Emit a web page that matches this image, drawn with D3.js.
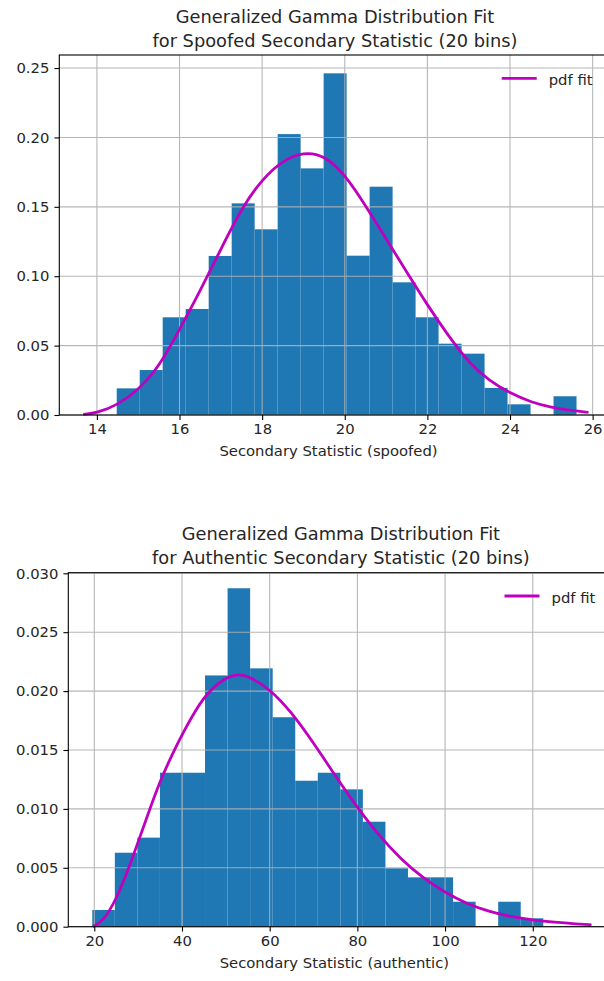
<!DOCTYPE html>
<html lang="en">
<head>
  <meta charset="UTF-8">
  <title>Generalized Gamma Distribution Fit</title>
  <script src="https://cdn.jsdelivr.net/npm/d3@7"></script>
  <style>
    body { margin: 0; background: #fff; }
    text { font-family: "DejaVu Sans", sans-serif; fill: #262626; }
  </style>
</head>
<body>
<svg id="chart"></svg>
<script>
  // ---- data ----
  // spoofed: histogram density per bin (20 bins) and bin range
  var spoofedRange = [14.48, 25.61];
  var spoofedDensity = [0.0192, 0.0324, 0.0704, 0.0764, 0.1146, 0.1525, 0.1338, 0.2024, 0.1777, 0.2462,
                        0.1148, 0.1645, 0.0956, 0.0704, 0.0514, 0.0442, 0.0195, 0.0077, 0.0, 0.0135];
  // spoofed: fitted pdf curve
  var spoofedFitX = [13.67, 14, 14.5, 15, 15.5, 16, 16.5, 17, 17.5, 18, 18.5, 19, 19.5, 20, 20.5, 21,
                     21.5, 22, 22.5, 23, 23.5, 24, 24.5, 25, 25.5, 25.9];
  var spoofedFitY = [0.0004, 0.0014, 0.0072, 0.018, 0.0345, 0.0615, 0.0895, 0.1195, 0.149, 0.170, 0.1835,
                     0.1895, 0.1873, 0.1735, 0.151, 0.127, 0.103, 0.0792, 0.0574, 0.0378, 0.0245, 0.0158,
                     0.0093, 0.0054, 0.0031, 0.0019];
  var spoofedXTicks = [14, 16, 18, 20, 22, 24, 26];
  var spoofedYTicks = [0, 0.05, 0.10, 0.15, 0.20, 0.25];

  // authentic
  var authenticRange = [19.54, 122.4];
  var authenticDensity = [0.00142, 0.00628, 0.00756, 0.01307, 0.01307, 0.02133, 0.02873, 0.02193, 0.01778, 0.01239,
                          0.01307, 0.01166, 0.00891, 0.00496, 0.00419, 0.00419, 0.00212, 0.0, 0.00212, 0.00071];
  var authenticFitX = [19.7, 22, 25, 28, 30, 32, 35, 38, 40, 45, 50, 53, 55, 60, 65, 70, 75, 80, 85, 90,
                       95, 100, 105, 110, 115, 120, 125, 130, 133.4];
  var authenticFitY = [0.0, 0.00045, 0.0023, 0.0051, 0.0072, 0.0093, 0.0124, 0.0148, 0.0163, 0.0197, 0.0212,
                       0.02143, 0.0213, 0.0202, 0.0182, 0.0156, 0.0128, 0.0101, 0.0077, 0.0057,
                       0.00413, 0.0029, 0.00194, 0.00128, 0.00085, 0.00057, 0.00037, 0.00023, 0.00016];
  var authenticXTicks = [20, 40, 60, 80, 100, 120];
  var authenticYTicks = [0, 0.005, 0.010, 0.015, 0.020, 0.025, 0.030];

  var width = 604, height = 981;
  var svg = d3.select("#chart").attr("width", width).attr("height", height);

  function drawPanel(opt) {
    var x = d3.scaleLinear().domain(opt.xDomain).range([opt.left, opt.right]);
    var y = d3.scaleLinear().domain(opt.yDomain).range([opt.bottom, opt.top]);
    var g = svg.append("g");

    // histogram bars
    var n = opt.density.length;
    var step = (opt.range[1] - opt.range[0]) / n;
    g.append("g")
      .selectAll("rect")
      .data(opt.density)
      .enter()
      .append("rect")
      .attr("x", function(d, i) { return x(opt.range[0] + i * step); })
      .attr("width", function(d, i) { return x(opt.range[0] + (i + 1) * step) - x(opt.range[0] + i * step); })
      .attr("y", function(d) { return y(d); })
      .attr("height", function(d) { return y(0) - y(d); })
      .attr("fill", "#1f77b4");

    // grid (drawn over the bars like the original)
    var grid = g.append("g").attr("stroke", "#b0b0b0").attr("stroke-width", 1.1).attr("opacity", 0.9);
    grid.selectAll("line.v").data(opt.xTicks).enter().append("line")
      .attr("x1", function(d) { return x(d); }).attr("x2", function(d) { return x(d); })
      .attr("y1", opt.top).attr("y2", opt.bottom);
    grid.selectAll("line.h").data(opt.yTicks).enter().append("line")
      .attr("y1", function(d) { return y(d); }).attr("y2", function(d) { return y(d); })
      .attr("x1", opt.left).attr("x2", opt.right);

    // pdf fit line
    var line = d3.line()
      .x(function(d) { return x(d[0]); })
      .y(function(d) { return y(d[1]); })
      .curve(d3.curveBasis);
    g.append("path")
      .datum(d3.zip(opt.fitX, opt.fitY))
      .attr("d", line)
      .attr("fill", "none")
      .attr("stroke", "#bf00bf")
      .attr("stroke-width", 2.8);

    // spines
    g.append("rect")
      .attr("x", opt.left).attr("y", opt.top)
      .attr("width", opt.right - opt.left).attr("height", opt.bottom - opt.top)
      .attr("fill", "none").attr("stroke", "#000").attr("stroke-width", 1.1);

    // axes
    var xAxis = d3.axisBottom(x).tickValues(opt.xTicks).tickSize(4.9).tickPadding(4).tickFormat(d3.format("d"));
    var yAxis = d3.axisLeft(y).tickValues(opt.yTicks).tickSize(4.9).tickPadding(5).tickFormat(d3.format(opt.yFormat));
    var xa = g.append("g").attr("transform", "translate(0," + opt.bottom + ")").call(xAxis);
    var ya = g.append("g").attr("transform", "translate(" + opt.left + ",0)").call(yAxis);
    [xa, ya].forEach(function(a) {
      a.select(".domain").remove();
      a.selectAll("line").attr("stroke", "#000").attr("stroke-width", 1.1);
      a.selectAll("text").style("font-size", "14.8px").attr("fill", "#262626");
    });

    // x label
    g.append("text")
      .attr("x", (opt.left + opt.right) / 2 - 8)
      .attr("y", opt.bottom + 41)
      .attr("text-anchor", "middle")
      .style("font-size", "14.8px")
      .text(opt.xLabel);

    // title, two lines
    var cx = (opt.left + opt.right) / 2 - 1.5;
    g.append("text").attr("x", cx).attr("y", opt.top - 32.5)
      .attr("text-anchor", "middle").style("font-size", "17.8px").text(opt.title[0]);
    g.append("text").attr("x", cx).attr("y", opt.top - 8.5)
      .attr("text-anchor", "middle").style("font-size", "17.8px").text(opt.title[1]);

    // legend
    var lg = g.append("g").attr("transform", "translate(" + (opt.right - 112) + "," + (opt.top + 23.3) + ")");
    lg.append("line").attr("x1", 0).attr("x2", 35).attr("y1", 0).attr("y2", 0)
      .attr("stroke", "#bf00bf").attr("stroke-width", 2.8);
    lg.append("text").attr("x", 47).attr("y", 6.5).style("font-size", "14.8px").text("pdf fit");
  }

  drawPanel({
    left: 59.3, right: 613.7, top: 55, bottom: 415,
    xDomain: [13.09, 26.51], yDomain: [0, 0.2594],
    range: spoofedRange, density: spoofedDensity,
    fitX: spoofedFitX, fitY: spoofedFitY,
    xTicks: spoofedXTicks, yTicks: spoofedYTicks, yFormat: ".2f",
    xLabel: "Secondary Statistic (spoofed)",
    title: ["Generalized Gamma Distribution Fit", "for Spoofed Secondary Statistic (20 bins)"]
  });

  drawPanel({
    left: 68.3, right: 616.5, top: 572.7, bottom: 926.7,
    xDomain: [14.07, 139.1], yDomain: [0, 0.03005],
    range: authenticRange, density: authenticDensity,
    fitX: authenticFitX, fitY: authenticFitY,
    xTicks: authenticXTicks, yTicks: authenticYTicks, yFormat: ".3f",
    xLabel: "Secondary Statistic (authentic)",
    title: ["Generalized Gamma Distribution Fit", "for Authentic Secondary Statistic (20 bins)"]
  });
</script>
</body>
</html>
